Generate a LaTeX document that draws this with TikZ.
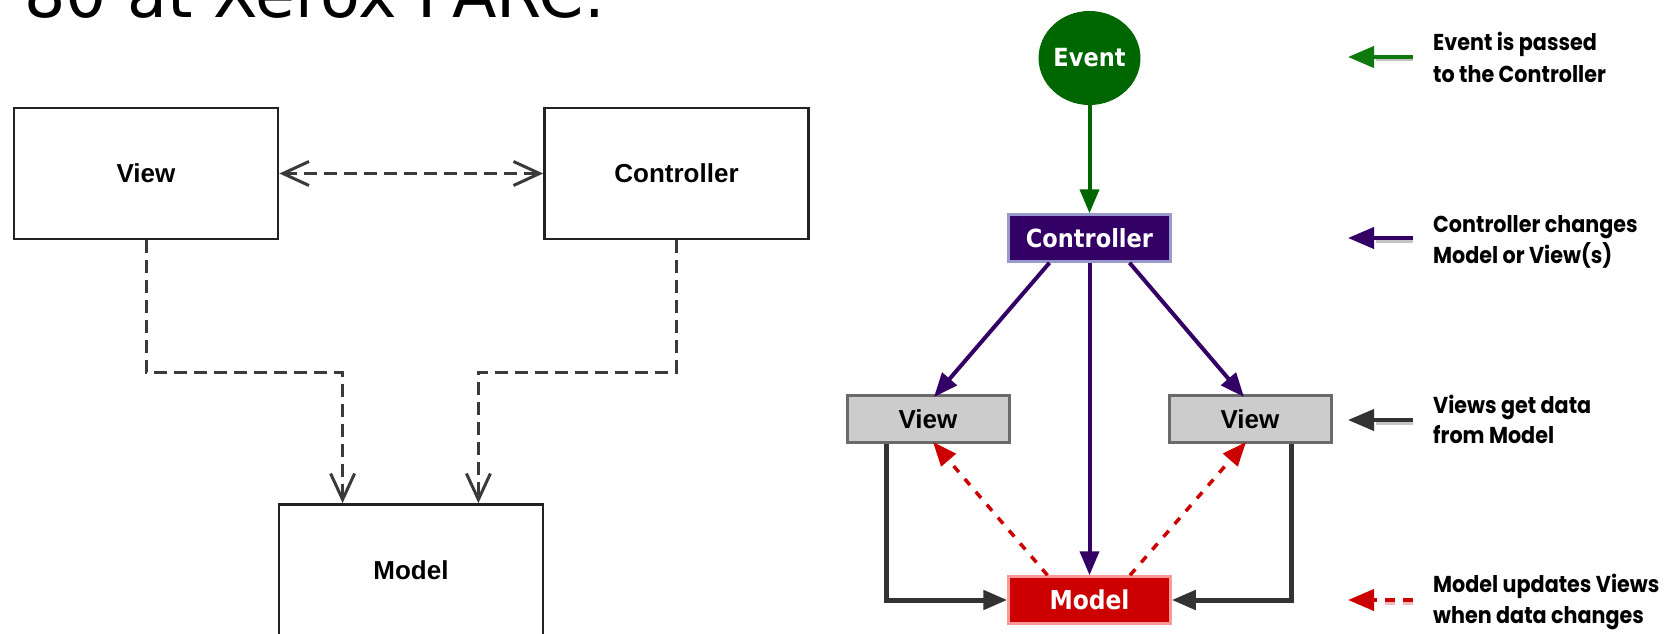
\documentclass[tikz,border=0pt]{standalone}
\usepackage{fontspec}
\usetikzlibrary{arrows.meta,calc,shapes.geometric}
\newfontfamily\titlefont{DejaVu Sans}
\newfontfamily\umlfont{Liberation Sans}
\newfontfamily\mvcfont{DejaVu Sans Condensed}
\newfontfamily\legendfont{Poppins}[FakeStretch=0.9]
\definecolor{umlline}{HTML}{222222}
\definecolor{umldashc}{HTML}{3A3A3A}
\definecolor{evgreen}{HTML}{006600}
\definecolor{lggreen}{HTML}{0E7A0E}
\definecolor{ctrlpurple}{HTML}{330066}
\definecolor{ctrlborder}{HTML}{9999CC}
\definecolor{viewgrey}{HTML}{CCCCCC}
\definecolor{viewborder}{HTML}{6A6A6A}
\definecolor{modelred}{HTML}{CC0000}
\definecolor{modelborder}{HTML}{FF9999}
\definecolor{darkgrey}{HTML}{333333}
\definecolor{shadowgrey}{HTML}{C4C4C4}
\definecolor{shadowpink}{HTML}{F4B8B8}
\begin{document}
\begin{tikzpicture}[x=1pt,y=-1pt,
  umlbox/.style={rectangle, draw=umlline, line width=2.8pt, minimum width=264pt, minimum height=131pt, inner sep=0pt, font=\umlfont\bfseries\fontsize{26}{26}\selectfont},
  umldash/.style={draw=umldashc, line width=3pt, dash pattern=on 13pt off 7pt},
  barb/.style={-{Straight Barb[length=26pt,width=24pt,line width=3pt]}},
  dbarb/.style={{Straight Barb[length=26pt,width=24pt,line width=3pt]}-{Straight Barb[length=26pt,width=24pt,line width=3pt]}},
  mvcbox/.style={rectangle, inner sep=0pt, minimum width=162pt, minimum height=47pt, line width=2.5pt},
  ctrlbox/.style={mvcbox, fill=ctrlpurple, draw=ctrlborder, text=white, font=\mvcfont\bfseries\fontsize{25}{25}\selectfont},
  viewbox/.style={mvcbox, fill=viewgrey, draw=viewborder, line width=3pt, text=black, font=\umlfont\bfseries\fontsize{26}{26}\selectfont},
  modelbox/.style={mvcbox, fill=modelred, draw=modelborder, text=white, font=\mvcfont\bfseries\fontsize{26}{26}\selectfont},
  tri/.style={-{Triangle[length=24pt,width=19pt]}},
  greenarrow/.style={tri, draw=evgreen, line width=4pt},
  purplearrow/.style={tri, draw=ctrlpurple, line width=4pt},
  greyarrow/.style={tri, draw=darkgrey, line width=5pt},
  redarrow/.style={tri, draw=modelred, line width=3.5pt, dash pattern=on 8pt off 9pt},
  legendtext/.style={anchor=base west, inner sep=0pt, font=\legendfont\bfseries\fontsize{23}{23}\selectfont},
  lgarrow/.style={-{Triangle[length=26pt,width=21pt]}, line width=4pt},
  lgshadow/.style={line width=3pt}
]
\useasboundingbox[fill=white] (0,0) rectangle (1679,634);

% title (cut off at the top)
\node[anchor=base west, inner sep=0pt, font=\titlefont\fontsize{65}{65}\selectfont] (title) at (24,18) {80 at Xerox PARC.};

% ---------------- left UML diagram ----------------
\node[umlbox] (uview) at (146,173.5) {View};
\node[umlbox] (uctrl) at (676.5,173.5) {Controller};
\node[umlbox] (umodel) at (411,570) {Model};

\draw[umldash, dbarb] (uview.east) -- (uctrl.west);
\draw[umldash, barb] (uview.south) |- ($(umodel.north west)+(65,-131)$) -- ($(umodel.north west)+(65,0)$);
\draw[umldash, barb] (uctrl.south) |- ($(umodel.north east)+(-66,-131)$) -- ($(umodel.north east)+(-66,0)$);

% ---------------- right MVC diagram ----------------
\node[ellipse, fill=evgreen, minimum width=83pt, minimum height=94pt, inner sep=0pt, text=white, font=\mvcfont\bfseries\fontsize{25}{25}\selectfont] (event) at (1089.5,58) {Event};
\node[ctrlbox] (ctrl) at (1089.5,238) {Controller};
\node[viewbox] (v1) at (928,419) {View};
\node[viewbox] (v2) at (1250,419) {View};
\node[modelbox] (model) at (1089.5,600) {Model};

\draw[greenarrow] (event.south) -- (ctrl.north);
\draw[purplearrow] ($(ctrl.south)+(-40,0)$) -- ($(v1.north)+(6,3)$);
\draw[purplearrow] (ctrl.south) -- (model.north);
\draw[purplearrow] ($(ctrl.south)+(40,0)$) -- ($(v2.north)+(-6,3)$);
\draw[greyarrow] ($(v1.south)+(-42,0)$) |- (model.west);
\draw[greyarrow] ($(v2.south)+(41,0)$) |- (model.east);
\draw[redarrow] ($(model.north)+(-42,0)$) -- ($(v1.south)+(5,-2)$);
\draw[redarrow] ($(model.north)+(40.5,0)$) -- ($(v2.south)+(-4,-2)$);

% ---------------- legend ----------------
\coordinate (l1a) at (1413,57);  \coordinate (l1b) at (1348,57);
\coordinate (l2a) at (1413,238); \coordinate (l2b) at (1348,238);
\coordinate (l3a) at (1413,420); \coordinate (l3b) at (1348,420);
\coordinate (l4a) at (1413,600); \coordinate (l4b) at (1348,600);

\draw[lgshadow, shadowgrey] ($(l1b)+(28,3)$) -- ($(l1a)+(0,3)$);
\draw[lgarrow, lggreen] (l1a) -- (l1b);
\node[legendtext] (t1a) at (1433,51) {Event is passed};
\node[legendtext] (t1b) at (1433,82) {to the Controller};

\draw[lgshadow, shadowgrey] ($(l2b)+(28,3)$) -- ($(l2a)+(0,3)$);
\draw[lgarrow, ctrlpurple] (l2a) -- (l2b);
\node[legendtext] (t2a) at (1433,232) {Controller changes};
\node[legendtext] (t2b) at (1433,263) {Model or View(s)};

\draw[lgshadow, shadowgrey] ($(l3b)+(28,3)$) -- ($(l3a)+(0,3)$);
\draw[lgarrow, darkgrey] (l3a) -- (l3b);
\node[legendtext] (t3a) at (1433,413) {Views get data};
\node[legendtext] (t3b) at (1433,443) {from Model};

\draw[lgshadow, shadowpink, dash pattern=on 10pt off 8pt] ($(l4b)+(37,3)$) -- ($(l4a)+(0,3)$);
\draw[lgarrow, modelred, dash pattern=on 10pt off 8pt] (l4a) -- (l4b);
\node[legendtext] (t4a) at (1433,592) {Model updates Views};
\node[legendtext] (t4b) at (1433,623) {when data changes};
\end{tikzpicture}
\end{document}
